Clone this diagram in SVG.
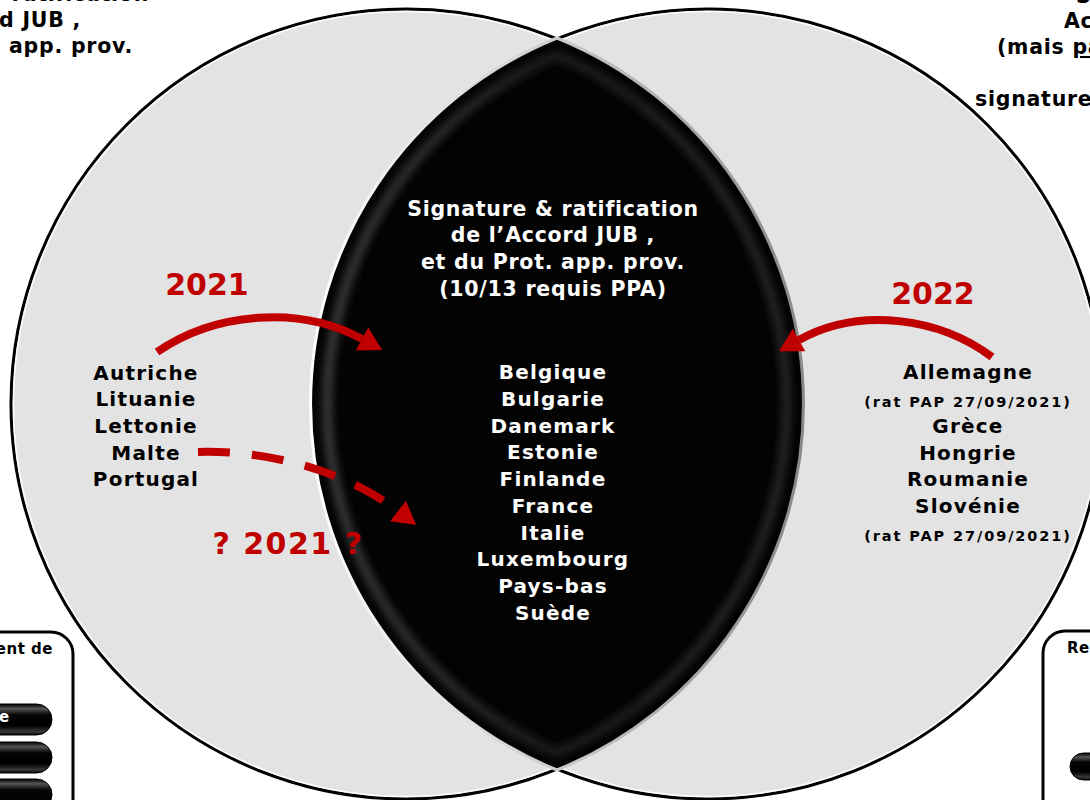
<svg xmlns="http://www.w3.org/2000/svg" width="1090" height="800" viewBox="0 0 1090 800">
<style>
.t{font-family:"DejaVu Sans",Verdana,"Liberation Sans",sans-serif;font-weight:bold;text-anchor:middle}
.s{text-anchor:start}
.e{text-anchor:end}
.w{fill:#fff}
.k{fill:#000}
.title{font-size:20.5px;letter-spacing:0.75px}
.cty{font-size:20px;letter-spacing:1.2px}
.small{font-size:14.5px;letter-spacing:1.9px}
.red{fill:#c00000;font-size:30px}
.box{fill:#fff;stroke:#000;stroke-width:3}
.pill{fill:url(#pillGrad);stroke:#000;stroke-width:1}
.circ{fill:#e3e3e3;stroke:#000;stroke-width:3}
.hl{fill:none;stroke:#fff;stroke-width:1.5;opacity:0.9}
.arr{fill:none;stroke:#c00000;stroke-width:8;marker-end:url(#ah)}
.dash{stroke-dasharray:32 22}
</style>
<defs>
<marker id="ah" markerUnits="userSpaceOnUse" markerWidth="26" markerHeight="28" viewBox="0 -14 24 28" refX="0" refY="0" orient="auto"><path d="M0,-13 L23,0 L0,13Z" fill="#c00000"/></marker>
<clipPath id="lensClip"><path d="M557,38 A395,395 0 0 0 557,770 A395,395 0 0 0 557,38Z"/></clipPath>
<filter id="blur" x="-10%" y="-10%" width="120%" height="120%"><feGaussianBlur stdDeviation="5"/></filter>
<linearGradient id="glowGrad" x1="0" y1="0" x2="1" y2="0"><stop offset="0" stop-color="#5a5a5a"/><stop offset="0.5" stop-color="#2a2a2a"/><stop offset="1" stop-color="#383838"/></linearGradient>
<linearGradient id="rimGrad" x1="0" y1="0" x2="1" y2="0"><stop offset="0" stop-color="#fff"/><stop offset="0.5" stop-color="#ccc"/><stop offset="1" stop-color="#888"/></linearGradient>
<linearGradient id="pillGrad" x1="0" y1="0" x2="0" y2="1"><stop offset="0" stop-color="#000"/><stop offset="0.15" stop-color="#555"/><stop offset="0.35" stop-color="#050505"/><stop offset="0.7" stop-color="#000"/><stop offset="0.9" stop-color="#3a3a3a"/><stop offset="1" stop-color="#000"/></linearGradient>
</defs>
<rect width="1090" height="800" fill="#fff"/>

<g id="circle-left">
<circle class="circ" cx="406" cy="404" r="395"/>
<circle class="hl" cx="406" cy="404" r="392.5"/>
</g>
<g id="circle-right">
<circle class="circ" cx="708" cy="404" r="395"/>
<circle class="hl" cx="708" cy="404" r="392.5"/>
</g>

<g id="lens">
<path d="M557,38 A395,395 0 0 0 557,770 A395,395 0 0 0 557,38Z" fill="#030303" stroke="url(#rimGrad)" stroke-width="3"/>
<g clip-path="url(#lensClip)">
<path d="M557,55 A380,380 0 0 0 557,753 A380,380 0 0 0 557,55Z" fill="none" stroke="url(#glowGrad)" stroke-width="6" filter="url(#blur)"/>
</g>
<text class="t w title" x="553" y="215.5">Signature &amp; ratification</text>
<text class="t w title" x="553" y="242.2">de l’Accord JUB ,</text>
<text class="t w title" x="553" y="268.9">et du Prot. app. prov.</text>
<text class="t w title" x="553" y="295.6">(10/13 requis PPA)</text>
<text class="t w cty" x="553" y="379.3">Belgique</text>
<text class="t w cty" x="553" y="406">Bulgarie</text>
<text class="t w cty" x="553" y="432.7">Danemark</text>
<text class="t w cty" x="553" y="459.4">Estonie</text>
<text class="t w cty" x="553" y="486.1">Finlande</text>
<text class="t w cty" x="553" y="512.8">France</text>
<text class="t w cty" x="553" y="539.5">Italie</text>
<text class="t w cty" x="553" y="566.2">Luxembourg</text>
<text class="t w cty" x="553" y="592.9">Pays-bas</text>
<text class="t w cty" x="553" y="619.6">Suède</text>
</g>

<g id="left-group">
<text class="t k cty" x="146" y="379.5">Autriche</text>
<text class="t k cty" x="146" y="406.2">Lituanie</text>
<text class="t k cty" x="146" y="432.9">Lettonie</text>
<text class="t k cty" x="146" y="459.6">Malte</text>
<text class="t k cty" x="146" y="486.3">Portugal</text>
<text class="t red" x="207" y="294.5">2021</text>
<text class="t red" x="288" y="554" style="letter-spacing:1.5px">? 2021 ?</text>
</g>

<g id="right-group">
<text class="t k cty" x="968" y="379">Allemagne</text>
<text class="t k small" x="968" y="406.5">(rat PAP 27/09/2021)</text>
<text class="t k cty" x="968" y="433">Grèce</text>
<text class="t k cty" x="968" y="459.7">Hongrie</text>
<text class="t k cty" x="968" y="486.4">Roumanie</text>
<text class="t k cty" x="968" y="513">Slovénie</text>
<text class="t k small" x="968" y="540.5">(rat PAP 27/09/2021)</text>
<text class="t red" x="933" y="304">2022</text>
</g>

<g id="top-left-text">
<text class="t e k title" x="149" y="1">ratification</text>
<text class="t e k title" x="81" y="27">d JUB ,</text>
<text class="t e k title" x="133" y="53">app. prov.</text>
</g>

<g id="top-right-text">
<text class="t s k title" x="1076" y="3">S</text>
<text class="t s k title" x="1064" y="28">Ac</text>
<text class="t s k title" x="997" y="54">(mais <tspan text-decoration="underline">pa</tspan></text>
<text class="t s k title" x="975" y="106">signature</text>
</g>

<g id="box-left">
<rect class="box" x="-150" y="632" width="223" height="260" rx="22"/>
<text class="t e k" x="53" y="654" style="font-size:15px;letter-spacing:0.5px">ent de</text>
<rect class="pill" x="-80" y="704" width="132" height="31" rx="15.5"/>
<text class="t s w" x="-1" y="722" style="font-size:15px">e</text>
<rect class="pill" x="-80" y="742" width="132" height="31" rx="15.5"/>
<rect class="pill" x="-80" y="779" width="132" height="31" rx="15.5"/>
</g>

<g id="box-right">
<rect class="box" x="1043" y="631" width="200" height="260" rx="22"/>
<text class="t s k" x="1067" y="653" style="font-size:15px;letter-spacing:0.5px">Re</text>
<rect class="pill" x="1070" y="753" width="100" height="27" rx="13.5"/>
</g>

<g id="connectors">
<path class="arr" d="M157,352 C215,312 300,305 362,339"/>
<path class="arr" d="M992,357 C940,318 860,306 799,340"/>
<path class="arr dash" d="M198,452 C262,450 342,468 398,511"/>
</g>
</svg>
